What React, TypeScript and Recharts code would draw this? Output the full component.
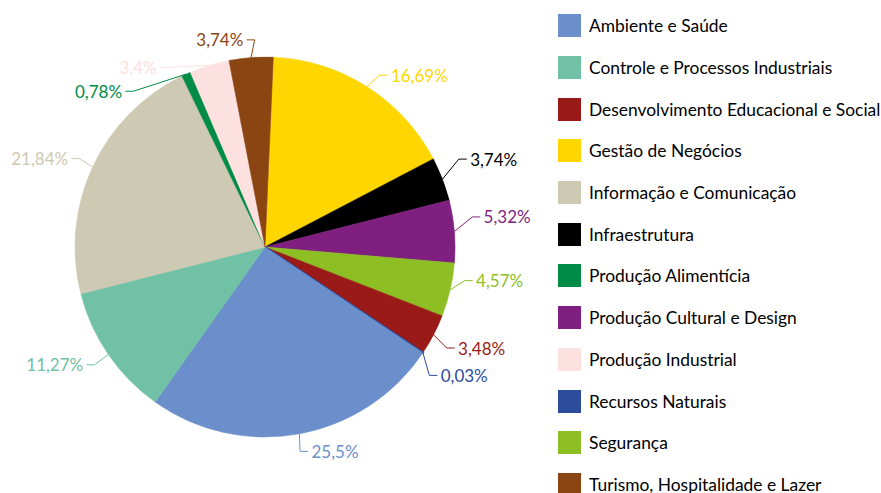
import { Cell, Legend, Pie, PieChart } from "recharts";

// slice order (clockwise from the top)
const CATEGORIES = [
	"Gestão de Negócios",
	"Infraestrutura",
	"Produção Cultural e Design",
	"Segurança",
	"Desenvolvimento Educacional e Social",
	"Recursos Naturais",
	"Ambiente e Saúde",
	"Controle e Processos Industriais",
	"Informação e Comunicação",
	"Produção Alimentícia",
	"Produção Industrial",
	"Turismo, Hospitalidade e Lazer",
];

const SHARES = [16.69, 3.74, 5.32, 4.57, 3.48, 0.03, 25.5, 11.27, 21.84, 0.78, 3.4, 3.74];

const LEGEND_ORDER = [
	"Ambiente e Saúde",
	"Controle e Processos Industriais",
	"Desenvolvimento Educacional e Social",
	"Gestão de Negócios",
	"Informação e Comunicação",
	"Infraestrutura",
	"Produção Alimentícia",
	"Produção Cultural e Design",
	"Produção Industrial",
	"Recursos Naturais",
	"Segurança",
	"Turismo, Hospitalidade e Lazer",
];

const COLORS: Record<string, string> = {
	"Ambiente e Saúde": "#6B8FCB",
	"Controle e Processos Industriais": "#70C1A6",
	"Desenvolvimento Educacional e Social": "#9A1A17",
	"Gestão de Negócios": "#FFD600",
	"Informação e Comunicação": "#CEC9B3",
	Infraestrutura: "#000000",
	"Produção Alimentícia": "#008C46",
	"Produção Cultural e Design": "#7F1F7F",
	"Produção Industrial": "#FDE0E0",
	"Recursos Naturais": "#2B4D9C",
	Segurança: "#8DBE24",
	"Turismo, Hospitalidade e Lazer": "#8B4513",
};

// label placement: angle nudge (deg, clockwise) and distance from centre
const LABEL_LAYOUT = [
	{ shift: 9.5, dist: 231 },
	{ shift: -0.1, dist: 245 },
	{ shift: -2.4, dist: 244 },
	{ shift: -4.9, dist: 237 },
	{ shift: -2.5, dist: 239 },
	{ shift: -1.0, dist: 237 },
	{ shift: -8.5, dist: 216 },
	{ shift: 5.2, dist: 241 },
	{ shift: -3.5, dist: 242 },
	{ shift: -22.4, dist: 228 },
	{ shift: -18.2, dist: 220 },
	{ shift: -8.1, dist: 212 },
];

const FONT = "Lato, 'Open Sans', sans-serif";
const LABEL_SIZE = 17;

const data = CATEGORIES.map((name, i) => ({ name, value: SHARES[i] }));

const fmt = (v: number) => `${String(v).replace(".", ",")}%`;

function textWidth(s: string) {
	let w = 0;
	for (const ch of s) {
		if (ch === ",") w += 0.23;
		else if (ch === "%") w += 0.84;
		else w += 0.58;
	}
	return w * LABEL_SIZE;
}

function renderLabel(props: any) {
	const { cx, cy, midAngle, outerRadius, index } = props;
	const mid = 90 - midAngle;
	const lay = LABEL_LAYOUT[index];
	const a = ((mid + lay.shift) * Math.PI) / 180;
	const tx = cx + lay.dist * Math.sin(a);
	const ty = cy - lay.dist * Math.cos(a);
	const text = fmt(SHARES[index]);
	const w = textWidth(text);
	const right = Math.sin(a) > 0;
	const m = (mid * Math.PI) / 180;
	const px = cx + outerRadius * Math.sin(m);
	const py = cy - outerRadius * Math.cos(m);
	const endX = right ? tx - w / 2 - 3 : tx + w / 2 + 3;
	const elbowX = right ? endX - 8 : endX + 8;
	const color = COLORS[CATEGORIES[index]];
	return (
		<g key={`lbl-${index}`}>
			<polyline
				points={`${px},${py} ${elbowX},${ty} ${endX},${ty}`}
				fill="none"
				stroke={color}
				strokeWidth={1}
			/>
			<text
				x={tx}
				y={ty}
				textAnchor="middle"
				dominantBaseline="central"
				fill={color}
				fontSize={LABEL_SIZE}
				fontFamily={FONT}
			>
				{text}
			</text>
		</g>
	);
}

function LegendList() {
	return (
		<div style={{ fontFamily: FONT, fontSize: 17.4, color: "#000" }}>
			{LEGEND_ORDER.map((name) => (
				<div key={name} style={{ display: "flex", alignItems: "center", height: 41.7 }}>
					<span
						style={{
							display: "inline-block",
							width: 23,
							height: 23,
							background: COLORS[name],
							marginRight: 8,
							flexShrink: 0,
						}}
					/>
					<span style={{ whiteSpace: "nowrap" }}>{name}</span>
				</div>
			))}
		</div>
	);
}

export default function App() {
	return (
		<div style={{ width: 881, height: 493, overflow: "hidden", position: "relative", background: "#fff" }}>
			<style>{"body{margin:0}"}</style>
			<PieChart width={881} height={493}>
				<Pie
					data={data}
					dataKey="value"
					nameKey="name"
					cx={260}
					cy={242}
					outerRadius={190}
					startAngle={87.5}
					endAngle={-272.5}
					label={renderLabel}
					labelLine={false}
					isAnimationActive={false}
				>
					{data.map((d) => (
						<Cell
							key={d.name}
							fill={COLORS[d.name]}
							stroke={COLORS[d.name]}
							strokeWidth={d.name === "Recursos Naturais" ? 2 : 0.6}
						/>
					))}
				</Pie>
				<Legend
					content={() => <LegendList />}
					wrapperStyle={{ position: "absolute", left: 558, top: 5, width: 323, height: "auto" }}
				/>
			</PieChart>
		</div>
	);
}
